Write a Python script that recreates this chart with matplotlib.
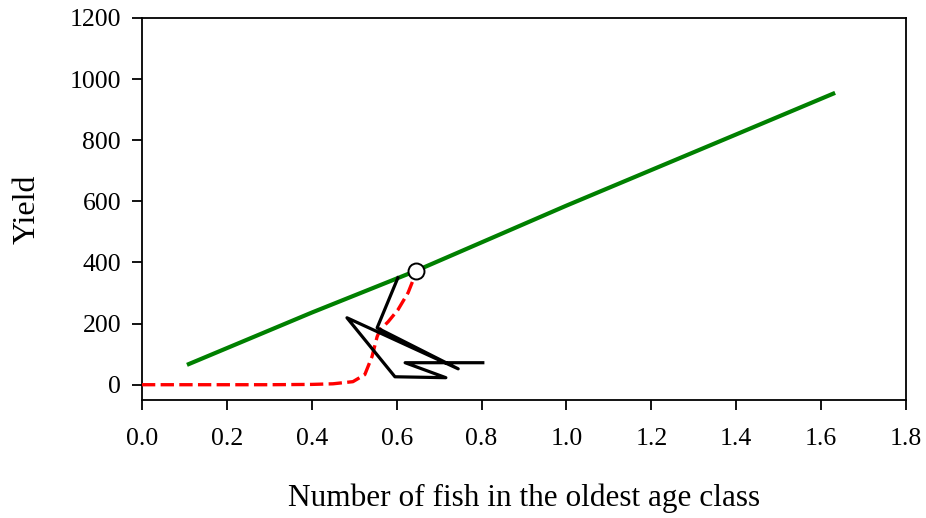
import matplotlib
matplotlib.use("Agg")
import matplotlib.pyplot as plt

# Yield vs. abundance of the oldest age class
green_x = [0.106, 0.40, 0.646, 1.00, 1.40, 1.633]
green_y = [65, 236, 373, 586, 819, 955]

red_x = [0.0, 0.10, 0.20, 0.30, 0.40, 0.45, 0.497, 0.525, 0.542, 0.554,
         0.561, 0.580, 0.603, 0.627, 0.639, 0.646]
red_y = [0, 0, 0, 0, 1, 3, 10, 33, 92, 157, 180, 206, 245, 301, 343, 362]

black_x = [0.603, 0.554, 0.745, 0.483, 0.596, 0.716, 0.620, 0.803]
black_y = [350, 186, 52, 219, 26, 23, 72, 72]

point_x = [0.646]
point_y = [373]

xticks = [0.0, 0.2, 0.4, 0.6, 0.8, 1.0, 1.2, 1.4, 1.6, 1.8]
yticks = [0, 200, 400, 600, 800, 1000, 1200]

plt.rcParams['font.family'] = ['Liberation Serif', 'DejaVu Serif']

fig = plt.figure(figsize=(9.26, 5.18), dpi=100)
ax = fig.add_axes([0.1533, 0.2278, 0.8251, 0.7375])

ax.plot(green_x, green_y, color='#008000', lw=3.0, solid_capstyle='butt', zorder=2)
ax.plot(red_x, red_y, color='red', lw=2.4, dashes=(4, 1.6), zorder=3)
ax.plot(black_x, black_y, color='black', lw=2.3, zorder=4)
ax.plot(point_x, point_y, 'o', ms=11.5, mfc='white', mec='black', mew=1.4, zorder=5)

ax.set_xlim(0, 1.8)
ax.set_ylim(-50, 1200)
ax.set_xticks(xticks)
ax.set_xticklabels([f"{v:.1f}" for v in xticks])
ax.set_yticks(yticks)
ax.set_yticklabels([str(v) for v in yticks])

ax.tick_params(direction='out', length=7, width=1.3, labelsize=18.5,
               top=False, right=False)
ax.tick_params(axis='x', pad=13)
ax.tick_params(axis='y', pad=8)
for s in ax.spines.values():
    s.set_linewidth(1.3)

ax.set_xlabel("Number of fish in the oldest age class", fontsize=22.5, labelpad=24)
ax.set_ylabel("Yield", fontsize=23, labelpad=20)

fig.savefig("out.png", dpi=100)
